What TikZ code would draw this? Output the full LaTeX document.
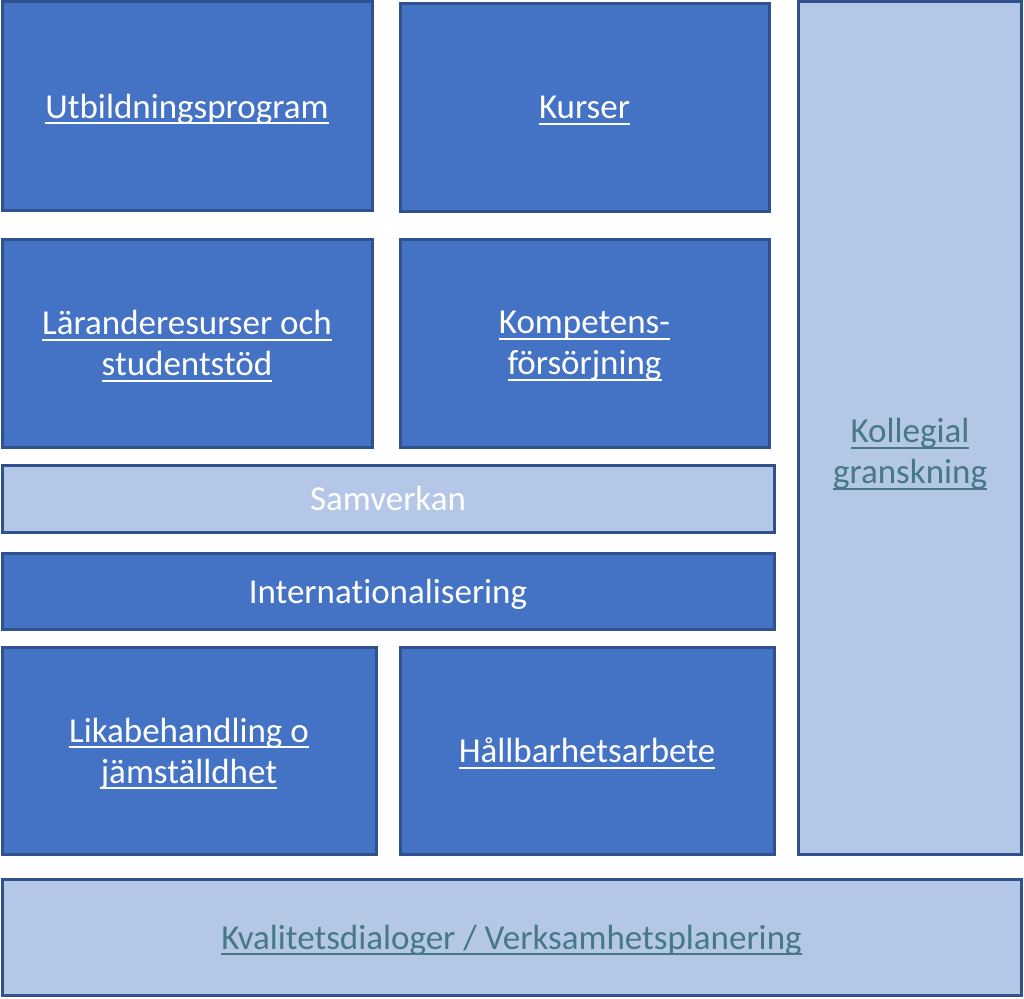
\documentclass[tikz,border=0pt]{standalone}
\usepackage{fontspec}
\setmainfont[Ligatures=NoCommon]{Carlito}
\newsavebox\ulbox
\newcommand\ulk[1]{\sbox\ulbox{#1}\rlap{\rule[-6pt]{\wd\ulbox}{2pt}}\usebox\ulbox}
\definecolor{boxblue}{HTML}{4472C4}
\definecolor{boxline}{HTML}{2F528F}
\definecolor{boxlight}{HTML}{B4C7E7}
\definecolor{linkteal}{HTML}{467886}

\begin{document}
\begin{tikzpicture}[x=1pt,y=-1pt,
   box/.style={draw=boxline,line width=3pt,inner sep=0pt,align=center,text depth=0pt,
               font=\fontsize{35}{41}\selectfont},
   darkbox/.style={box,fill=boxblue,text=white},
   lightbox/.style={box,fill=boxlight,text=linkteal}]
   \useasboundingbox (0,0) rectangle (1024,998);
   % Top row
   \node [darkbox,minimum width=370pt,minimum height=208pt] (utb) at (187,106) {\ulk{Utbildningsprogram}};
   \node [darkbox,minimum width=369pt,minimum height=207pt] (kurs) at (584.5,107.5) {\ulk{Kurser}};
   % Second row
   \node [darkbox,minimum width=370pt,minimum height=208pt] (larande) at (187,343) {\ulk{Läranderesurser och}\\\ulk{studentstöd}};
   \node [darkbox,minimum width=369pt,minimum height=208pt] (komp) at (584.5,343) {\ulk{Kompetens-}\\\ulk{försörjning}};
   % Bands
   \node [box,fill=boxlight,text=white,minimum width=772pt,minimum height=67pt] (samv) at (388,498.5) {Samverkan};
   \node [darkbox,minimum width=772pt,minimum height=76pt] (intl) at (388,591) {Internationalisering};
   % Bottom row
   \node [darkbox,minimum width=374pt,minimum height=207pt] (lika) at (189,750.5) {\ulk{Likabehandling o}\\\ulk{jämställdhet}};
   \node [darkbox,minimum width=374pt,minimum height=207pt] (hall) at (587,750.5) {\ulk{Hållbarhetsarbete}};
   % Side column and base
   \node [lightbox,minimum width=223pt,minimum height=852pt] (koll) at (909.5,428) {};
   \node [align=center,text=linkteal,font=\fontsize{35}{41}\selectfont] (kolltext) at (910,454) {\ulk{Kollegial}\\\ulk{granskning}};
   \node [lightbox,minimum width=1019pt,minimum height=116pt] (kval) at (511.5,937) {\ulk{Kvalitetsdialoger / Verksamhetsplanering}};
\end{tikzpicture}
\end{document}
